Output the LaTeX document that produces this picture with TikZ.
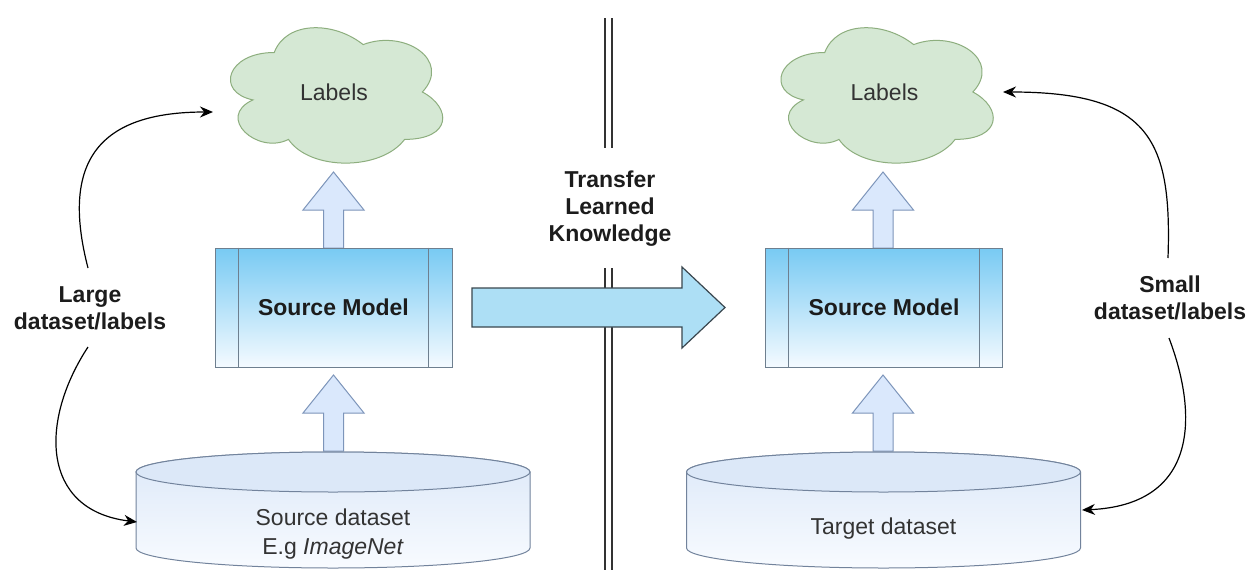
\documentclass[tikz,border=0pt]{standalone}
\usepackage{fontspec}
\setmainfont{Liberation Sans}
\usetikzlibrary{arrows.meta}
\definecolor{cloudfill}{HTML}{D5E8D4}
\definecolor{cloudline}{HTML}{8DAE7E}
\definecolor{arrfill}{HTML}{DAE8FC}
\definecolor{arrline}{HTML}{7D95BA}
\definecolor{boxtop}{HTML}{78CAF3}
\definecolor{boxbottom}{HTML}{F4FAFF}
\definecolor{boxline}{HTML}{6E7F8F}
\definecolor{bigfill}{HTML}{ADDFF5}
\definecolor{bigline}{HTML}{3A474F}
\definecolor{cyltop}{HTML}{DCE8F8}
\definecolor{cylbottom}{HTML}{F8FBFF}
\definecolor{cylline}{HTML}{72839C}
\definecolor{textgray}{HTML}{333333}
\definecolor{textdark}{HTML}{1C1C1C}
\tikzset{
  cloudshape/.style={draw=cloudline, fill=cloudfill, line width=1pt},
  cloudtext/.style={text=textgray, inner sep=0pt},
  modelbox/.style={rectangle, minimum width=237pt, minimum height=119pt,
    draw=boxline, line width=1pt, top color=boxtop, bottom color=boxbottom,
    font=\fontsize{23}{27}\selectfont\bfseries, text=textdark},
  blockarr/.style={draw=arrline, fill=arrfill, line width=1pt, line join=miter},
  bigarr/.style={draw=bigline, fill=bigfill, line width=1.2pt, line join=miter},
  curvearr/.style={-{Stealth[length=13pt,width=11pt]}, line width=1.2pt, black},
  sidelabel/.style={align=center, font=\fontsize{23}{27}\selectfont\bfseries, text=textdark, inner sep=0pt},
  dstext/.style={align=center, text=textgray, inner sep=0pt},
  cylbody/.style={draw=cylline, line width=1pt, top color=cyltop, bottom color=cylbottom},
  cyllid/.style={draw=cylline, line width=1pt, fill=cyltop},
  divider/.style={draw=textgray, line width=1.3pt},
  uparrow/.pic={\path[blockarr] (0,0) -- (30.5,38) -- (10,38) -- (10,76) -- (-10,76) -- (-10,38) -- (-30.5,38) -- cycle;}
}
% cloud outline in a 237 x 158 box whose top left corner is (#1,#2)
\newcommand\drawcloud[2]{%
  \begin{scope}[shift={(#1,#2)}, x=237pt, y=-158pt]
  \path[cloudshape] (0.25,0.25)
    .. controls (0.05,0.25) and (0,0.5) .. (0.16,0.55)
    .. controls (0,0.66) and (0.18,0.9) .. (0.31,0.8)
    .. controls (0.4,1) and (0.7,1) .. (0.8,0.8)
    .. controls (1,0.8) and (1,0.6) .. (0.875,0.5)
    .. controls (1,0.3) and (0.8,0.1) .. (0.625,0.2)
    .. controls (0.5,0.05) and (0.3,0.05) .. (0.25,0.25) -- cycle;
  \end{scope}}
\newcommand\drawdbcyl[1]{%
  \path[cylbody] (#1-197,472) -- (#1-197,548)
    arc[start angle=180,end angle=360,x radius=197pt,y radius=20pt]
    -- (#1+197,472) arc[start angle=0,end angle=180,x radius=197pt,y radius=20pt] -- cycle;
  \path[cyllid] (#1,472) ellipse[x radius=197pt,y radius=20pt];
}
\begin{document}
\begin{tikzpicture}[x=1pt,y=-1pt,font=\fontsize{23}{27}\selectfont]
\useasboundingbox (0,0) rectangle (1258,570);
\fill[white] (0,0) rectangle (1258,570);

% divider (behind the transfer arrow)
\draw[divider] (605,18) -- (605,148) (612,18) -- (612,148);
\draw[divider] (605,268) -- (605,570) (612,268) -- (612,570);

% ---------- left side ----------
\drawcloud{215}{13}
\node[cloudtext] (cloudL) at (334,92) {Labels};
\pic at (333.5,172) {uparrow};
\node[modelbox] (boxL) at (333.5,307.5) {Source Model};
\draw[boxline, line width=1pt] ([xshift=24pt]boxL.north west) -- ([xshift=24pt]boxL.south west)
  ([xshift=-24pt]boxL.north east) -- ([xshift=-24pt]boxL.south east);
\pic at (333.5,375) {uparrow};
\drawdbcyl{333}
\node[dstext] (dsL) at (333,534) {Source dataset\\[2pt]E.g \textit{ImageNet}};

% ---------- right side ----------
\drawcloud{765.5}{13}
\node[cloudtext] (cloudR) at (884.5,92) {Labels};
\pic at (883,172) {uparrow};
\node[modelbox] (boxR) at (884,307.5) {Source Model};
\draw[boxline, line width=1pt] ([xshift=23pt]boxR.north west) -- ([xshift=23pt]boxR.south west)
  ([xshift=-24pt]boxR.north east) -- ([xshift=-24pt]boxR.south east);
\pic at (883,375) {uparrow};
\drawdbcyl{883.5}
\node[dstext] (dsR) at (883.5,529) {Target dataset};

% ---------- transfer ----------
\path[bigarr] (472,288) -- (682,288) -- (682,267) -- (725,307.5) -- (682,348) -- (682,327) -- (472,327) -- cycle;
\node[sidelabel] (transfer) at (610,209) {Transfer\\Learned\\Knowledge};

% ---------- side labels and curved arrows ----------
\node[sidelabel] (large) at (90,308) {Large\\dataset/labels};
\node[sidelabel] (small) at (1170,298) {Small\\dataset/labels};
\coordinate (lt1) at (88,268);
\coordinate (lt2) at (213,112);
\coordinate (lb1) at (88,347);
\coordinate (lb2) at (137,522);
\coordinate (rt1) at (1168,258);
\coordinate (rt2) at (1003,92);
\coordinate (rb1) at (1169,338);
\coordinate (rb2) at (1082,510);
\draw[curvearr] (lt1) .. controls (60,160) and (100,112) .. (lt2);
\draw[curvearr] (lb1) .. controls (40,420) and (40,510) .. (lb2);
\draw[curvearr] (rt1) .. controls (1172,140) and (1150,92) .. (rt2);
\draw[curvearr] (rb1) .. controls (1200,420) and (1195,505) .. (rb2);
\end{tikzpicture}
\end{document}
